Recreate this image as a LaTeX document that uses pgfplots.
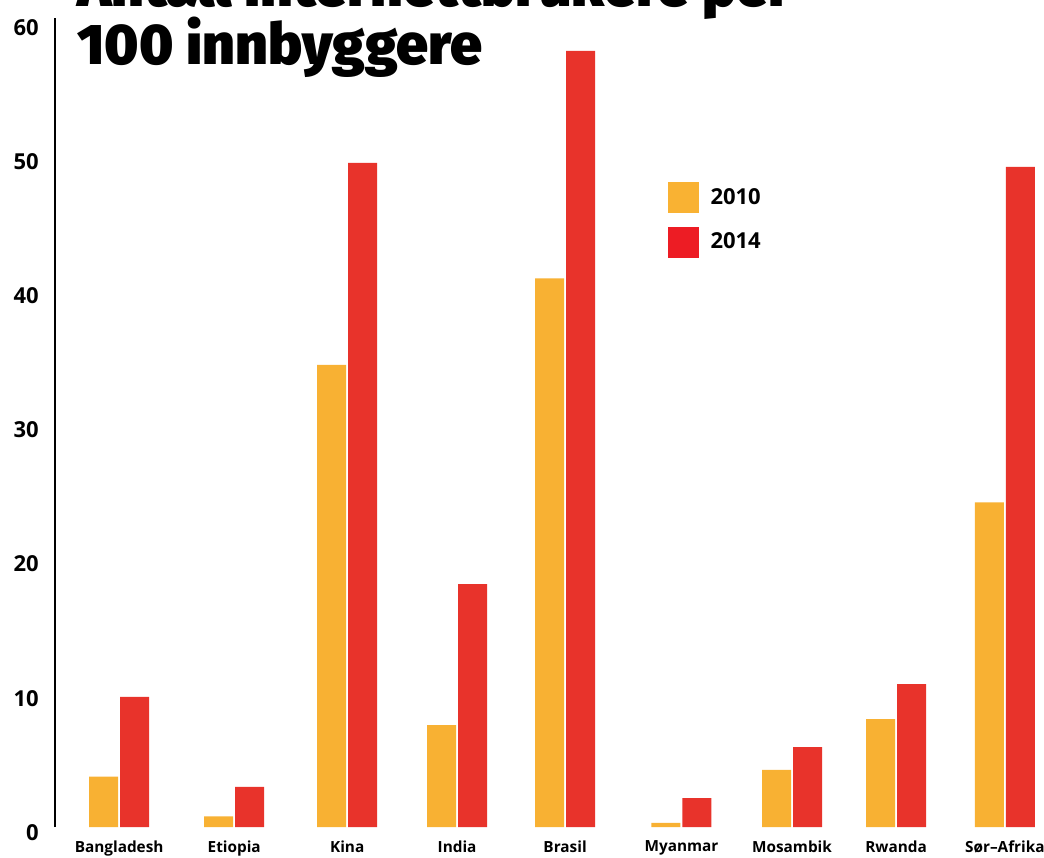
\documentclass[border=0pt]{standalone}
\usepackage{fontspec}
\setmainfont{Open Sans}
\newfontfamily\titlefont{Fira Sans Black}
\usepackage{pgfplots}
\pgfplotsset{compat=1.18}

\definecolor{bar10}{HTML}{F8B133}
\definecolor{bar14}{HTML}{E8332B}
\definecolor{leg10}{HTML}{F9B233}
\definecolor{leg14}{HTML}{ED1C24}

\begin{document}
\begin{tikzpicture}
\begin{axis}[
    name=ax,
    scale only axis,
    width=741.75pt, height=606.75pt,
    xmin=-0.579, xmax=8.35,
    ymin=0, ymax=60.3,
    ybar=1.5pt, bar width=21.75pt,
    axis lines=left,
    axis line style={-},
    x axis line style={draw=none},
    y axis line style={line width=1pt, black},
    major tick length=0pt,
    xtick={0,1.039,2.059,3.051,4.026,5.077,6.075,7.015,7.997},
    xticklabels={Bangladesh,Etiopia,Kina,India,Brasil,Myanmar,Mosambik,Rwanda,Sør–Afrika},
    xticklabel style={font=\fontsize{11.5}{13}\selectfont\bfseries, anchor=north, inner sep=0pt, yshift=-10pt},
    ytick={0,10,...,60},
    /pgf/number format/assume math mode=true,
    yticklabel style={font=\fontsize{16.5}{18}\selectfont\bfseries, anchor=east, inner sep=0pt, xshift=-12pt, yshift=-4pt},
    legend style={at={(axis cs:4.955,48.06)}, anchor=north west, draw=none, fill=none,
        inner sep=0pt, outer sep=0pt, row sep=10.5pt,
        font=\fontsize{16.5}{18}\selectfont\bfseries,
        nodes={inner sep=0pt},
        /tikz/every odd column/.append style={column sep=9pt}},
    legend cell align=left,
]
\addlegendimage{legend image code/.code={\fill[leg10] (0pt,-11.35pt) rectangle (22.5pt,11.15pt);}}
\addlegendimage{legend image code/.code={\fill[leg14] (0pt,-11.35pt) rectangle (22.5pt,11.15pt);}}
% 2010
\addplot[fill=bar10, draw=none, bar shift=-11.625pt] coordinates {
    (0,3.75) (1.039,0.8) (2.059,34.45) (3.051,7.6) (4.026,40.9) (5.077,0.3) (6.075,4.25) (7.015,8.05) (7.997,24.2)
};
% 2014
\addplot[fill=bar14, draw=none, bar shift=11.625pt] coordinates {
    (0,9.7) (1.039,3.0) (2.059,49.5) (3.051,18.1) (4.026,57.85) (5.077,2.15) (6.075,5.95) (7.015,10.65) (7.997,49.2)
};
\legend{2010,2014}
\end{axis}
\node[anchor=base west, inner sep=0pt] at ([xshift=16.5pt,yshift=615pt]ax.south west)
    {\titlefont\fontsize{43}{43}\selectfont Antall internettbrukere per};
\node[anchor=base west, inner sep=0pt] at ([xshift=16.5pt,yshift=571.5pt]ax.south west)
    {\titlefont\fontsize{43}{43}\selectfont 100 innbyggere};
\pgfresetboundingbox
\path[use as bounding box] (ax.south west) ++(-41.25pt,-22.5pt) rectangle ++(783pt,642.75pt);
\end{tikzpicture}
\end{document}
